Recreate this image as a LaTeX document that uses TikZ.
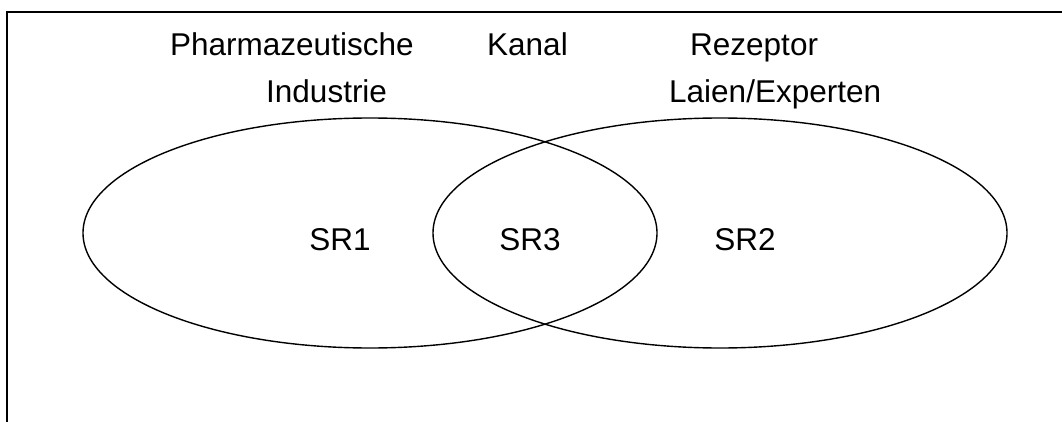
\documentclass[tikz,border=0pt]{standalone}
\usepackage{fontspec}
\setmainfont{Liberation Sans}
\usetikzlibrary{shapes.geometric}
\begin{document}
\begin{tikzpicture}[x=1pt,y=-1pt,
  lbl/.style={anchor=base west,inner sep=0pt,font=\fontsize{31.5}{36}\selectfont},
  ctr/.style={anchor=center,inner sep=0pt,font=\fontsize{31.5}{36}\selectfont},
  set/.style={draw,ellipse,line width=1.4pt,minimum width=574pt,minimum height=230pt,inner sep=0pt},
  frame/.style={line width=2pt}]
\useasboundingbox (0,0) rectangle (1062,422);
\coordinate (tl) at (7,12);
\coordinate (tr) at (1063,12);
\coordinate (bl) at (7,423);
\draw[frame] (tr) -- (tl) -- (bl);
\node[set] (e1) at (370,233) {};
\node[set] (e2) at (720,233) {};
\node[lbl] (pharma) at (170,56) {Pharmazeutische};
\node[lbl] (ind) at (266,103) {Industrie};
\node[lbl] (kanal) at (487,56) {Kanal};
\node[lbl] (rez) at (690,56) {Rezeptor};
\node[lbl] (laien) at (669,103) {Laien/Experten};
\node[ctr] (sr1) at (340,240) {SR1};
\node[ctr] (sr3) at (530,240) {SR3};
\node[ctr] (sr2) at (745,240) {SR2};
\end{tikzpicture}
\end{document}
